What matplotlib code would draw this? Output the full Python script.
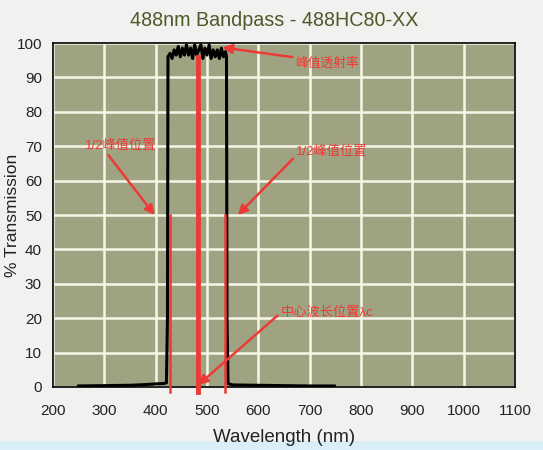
import matplotlib.pyplot as plt
from matplotlib.patches import Rectangle

plt.rcParams['font.family'] = ['Liberation Sans', 'Noto Sans CJK SC', 'DejaVu Sans']

# transmission curve
wavelength = [250, 300, 350, 380, 400, 415, 421, 423, 424, 428, 432, 436, 440, 444, 448,
              452, 456, 460, 464, 468, 472, 476, 480, 484, 488, 492, 496, 500, 504,
              508, 512, 516, 520, 524, 528, 532, 536, 538, 539, 541, 550, 600, 650, 700, 748]
transmission = [0.3, 0.4, 0.5, 0.7, 0.9, 1.0, 1.2, 20, 96, 97, 95.5, 98, 96.5, 99, 96,
                98.5, 96.5, 99.5, 96.5, 98.5, 95.5, 99.5, 96.5, 98, 99.5, 95.5, 98.5, 96.5, 99.5,
                95.5, 98, 96, 98, 95.5, 98.5, 96, 97.5, 96, 20, 1.0, 0.6, 0.5, 0.4, 0.3, 0.3]

# red marker lines: half-peak left, centre, half-peak right
marker_x = [428, 482, 535]
marker_top = [50, 96, 50]

title = '488nm Bandpass - 488HC80-XX'
red = '#ec3a36'

fig = plt.figure(figsize=(5.43, 4.5), dpi=100)
fig.patch.set_facecolor('#f1f1ef')
fig.patches.append(Rectangle((0, 0), 1, 0.02, transform=fig.transFigure,
                             facecolor='#d9eef6', edgecolor='none', zorder=-5))

ax = fig.add_axes([0.0976, 0.14, 0.8508, 0.7644])
ax.set_facecolor('#a0a382')
ax.set_xlim(200, 1100)
ax.set_ylim(0, 100)
ax.set_xticks(range(200, 1101, 100))
ax.set_yticks(range(0, 101, 10))
ax.grid(True, color='#f6f6e8', linewidth=1.8)
ax.set_axisbelow(True)
for s in ax.spines.values():
    s.set_color('black')
    s.set_linewidth(1.2)
ax.tick_params(length=0, labelsize=11, colors='#222222')
ax.tick_params(axis='x', pad=12)
ax.tick_params(axis='y', pad=8)

ax.plot(wavelength, transmission, color='black', linewidth=2.2, zorder=3)

for x, top, w in zip(marker_x, marker_top, [1.8, 3.5, 1.8]):
    ax.plot([x, x], [-1.5, top], color=red, linewidth=w, zorder=4, clip_on=False)

ax.set_xlabel('Wavelength (nm)', fontsize=13.5, color='#222222', labelpad=8)
ax.set_ylabel('% Transmission', fontsize=12.5, color='#222222')
ax.yaxis.set_label_coords(-0.072, 0.5)
fig.text(0.505, 0.955, title, ha='center', va='center', fontsize=14.2, color='#4d5a2a')

arrow = dict(arrowstyle='-|>', color=red, linewidth=1.8, mutation_scale=14, shrinkA=0, shrinkB=0)
ax.annotate('峰值透射率', xy=(530, 98.7), xytext=(672, 94), color=red, fontsize=9.2,
            va='center', arrowprops=dict(arrow, relpos=(0, 1.0)), zorder=5)
ax.annotate('1/2峰值位置', xy=(398, 50), xytext=(262, 70), color=red, fontsize=9.5,
            va='center', arrowprops=dict(arrow, relpos=(0.3, 0)), zorder=5)
ax.annotate('1/2峰值位置', xy=(560, 50), xytext=(673, 68.3), color=red, fontsize=9.5,
            va='center', arrowprops=dict(arrow, relpos=(0, 0.2)), zorder=5)
ax.annotate('中心波长位置λc', xy=(483, 0.6), xytext=(643, 21.5), color=red, fontsize=9.5,
            va='center', arrowprops=dict(arrow, relpos=(0, 0.5)), zorder=5)

fig.savefig('out.png', dpi=100, facecolor=fig.get_facecolor())
